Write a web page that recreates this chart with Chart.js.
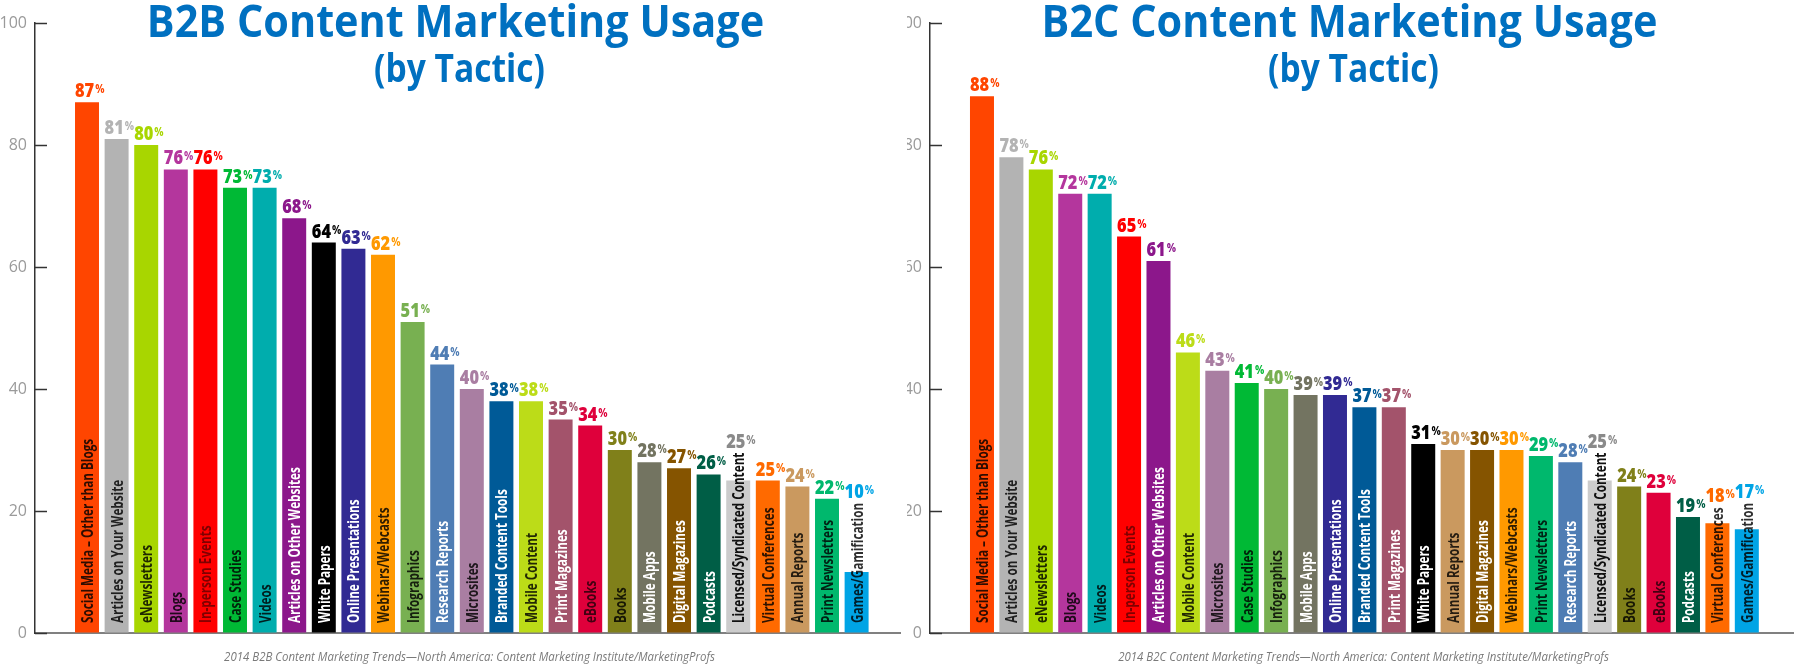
<!DOCTYPE html>
<html>
<head>
<meta charset="utf-8">
<script src="https://cdn.jsdelivr.net/npm/chart.js@4.4.1/dist/chart.umd.min.js"></script>
<style>
html, body { margin: 0; padding: 0; background: #fff; }
body { width: 1796px; height: 664px; position: relative; overflow: hidden; }
#b2bWrap { position: absolute; left: 0; top: 0; width: 907px; height: 664px; background: #fff; z-index: 2; }
#b2cWrap { position: absolute; left: 880px; top: 0; width: 916px; height: 664px; z-index: 1; }
</style>
</head>
<body>
<div id="b2bWrap"><canvas id="b2bChart"></canvas></div>
<div id="b2cWrap"><canvas id="b2cChart"></canvas></div>
<script>
const b2bTactics = [
    "Social Media – Other than Blogs", "Articles on Your Website", "eNewsletters", "Blogs",
    "In-person Events", "Case Studies", "Videos", "Articles on Other Websites", "White Papers",
    "Online Presentations", "Webinars/Webcasts", "Infographics", "Research Reports", "Microsites",
    "Branded Content Tools", "Mobile Content", "Print Magazines", "eBooks", "Books", "Mobile Apps",
    "Digital Magazines", "Podcasts", "Licensed/Syndicated Content", "Virtual Conferences",
    "Annual Reports", "Print Newsletters", "Games/Gamification"
];
const b2bValues = [87, 81, 80, 76, 76, 73, 73, 68, 64, 63, 62, 51, 44, 40, 38, 38, 35, 34, 30, 28, 27, 26, 25, 25, 24, 22, 10];

const b2cTactics = [
    "Social Media – Other than Blogs", "Articles on Your Website", "eNewsletters", "Blogs", "Videos",
    "In-person Events", "Articles on Other Websites", "Mobile Content", "Microsites", "Case Studies",
    "Infographics", "Mobile Apps", "Online Presentations", "Branded Content Tools", "Print Magazines",
    "White Papers", "Annual Reports", "Digital Magazines", "Webinars/Webcasts", "Print Newsletters",
    "Research Reports", "Licensed/Syndicated Content", "Books", "eBooks", "Podcasts",
    "Virtual Conferences", "Games/Gamification"
];
const b2cValues = [88, 78, 76, 72, 72, 65, 61, 46, 43, 41, 40, 39, 39, 37, 37, 31, 30, 30, 30, 29, 28, 25, 24, 23, 19, 18, 17];

const yTicks = [0, 20, 40, 60, 80, 100];

// colours per tactic: bar fill, text inside the bar
const DARK = "rgba(0,0,0,0.82)";
const tacticStyle = {
    "Social Media – Other than Blogs": { bar: "#ff4500", text: DARK },
    "Articles on Your Website": { bar: "#b3b3b3", text: DARK },
    "eNewsletters": { bar: "#a8d600", text: DARK },
    "Blogs": { bar: "#b4369d", text: DARK },
    "In-person Events": { bar: "#ff0000", text: "rgba(0,0,0,0.5)" },
    "Case Studies": { bar: "#00b935", text: DARK },
    "Videos": { bar: "#00adad", text: DARK },
    "Articles on Other Websites": { bar: "#8c178b", text: "#fff" },
    "White Papers": { bar: "#000000", text: "#fff" },
    "Online Presentations": { bar: "#312a93", text: "#fff" },
    "Webinars/Webcasts": { bar: "#ff9900", text: DARK },
    "Infographics": { bar: "#78b051", text: DARK },
    "Research Reports": { bar: "#4f7db4", text: "#fff" },
    "Microsites": { bar: "#a97ea2", text: DARK },
    "Branded Content Tools": { bar: "#005a97", text: "#fff" },
    "Mobile Content": { bar: "#bcdc18", text: DARK },
    "Print Magazines": { bar: "#a3536b", text: "#fff" },
    "eBooks": { bar: "#df003b", text: "rgba(0,0,0,0.7)" },
    "Books": { bar: "#80801a", text: DARK },
    "Mobile Apps": { bar: "#737461", text: "#fff" },
    "Digital Magazines": { bar: "#855400", text: "#fff" },
    "Podcasts": { bar: "#005e46", text: "#fff" },
    "Licensed/Syndicated Content": { bar: "#cccccc", text: "#111", label: "#8a8a8a" },
    "Virtual Conferences": { bar: "#ff6a00", text: DARK },
    "Annual Reports": { bar: "#ca995f", text: DARK },
    "Print Newsletters": { bar: "#00b86d", text: DARK },
    "Games/Gamification": { bar: "#00a4e5", text: DARK }
};

const FONT = "'Open Sans', 'Noto Sans', sans-serif";

function squeezedText(ctx, text, x, y, squeeze) {
    ctx.save();
    ctx.translate(x, y);
    ctx.scale(squeeze, 1);
    ctx.fillText(text, 0, 0);
    ctx.restore();
    return ctx.measureText(text).width * squeeze;
}

const overlayPlugin = {
    id: "overlay",
    afterDatasetsDraw(chart, args, opts) {
        const ctx = chart.ctx;
        const area = chart.chartArea;
        const meta = chart.getDatasetMeta(0);
        const tactics = opts.tactics;
        const values = opts.values;

        meta.data.forEach((bar, i) => {
            const style = tacticStyle[tactics[i]];
            const baseY = area.bottom - 10;

            // category name, rotated inside the bar
            ctx.save();
            ctx.font = `700 16.5px ${FONT}`;
            const squeeze = 0.71;
            const textLen = ctx.measureText(tactics[i]).width * squeeze;
            ctx.translate(bar.x + 6, baseY);
            ctx.rotate(-Math.PI / 2);
            ctx.scale(squeeze, 1);
            ctx.fillStyle = style.text;
            ctx.textAlign = "left";
            ctx.textBaseline = "alphabetic";
            ctx.fillText(tactics[i], 0, 0);
            ctx.restore();

            // value label above the bar (or above the name if it sticks out)
            const labelY = Math.min(bar.y, baseY - textLen) - 5;
            const left = bar.x - bar.width / 2;
            ctx.save();
            ctx.fillStyle = style.label || style.bar;
            ctx.textAlign = "left";
            ctx.textBaseline = "alphabetic";
            ctx.font = `800 19px ${FONT}`;
            const w = squeezedText(ctx, String(values[i]), left, labelY, 0.86);
            ctx.font = `700 12px ${FONT}`;
            squeezedText(ctx, "%", left + w + 1, labelY - 4, 0.86);
            ctx.restore();
        });
    },
    afterDraw(chart, args, opts) {
        const ctx = chart.ctx;
        const area = chart.chartArea;
        const yScale = chart.scales.y;

        // inward tick marks on the y axis
        ctx.save();
        ctx.strokeStyle = "#333";
        ctx.lineWidth = 1.5;
        yTicks.forEach(v => {
            const y = Math.round(yScale.getPixelForValue(v)) + 0.5;
            ctx.beginPath();
            ctx.moveTo(area.left, y);
            ctx.lineTo(area.left + 12, y);
            ctx.stroke();
        });
        ctx.restore();

        const cx = (area.left + area.right) / 2;

        ctx.save();
        ctx.fillStyle = "#0070c0";
        ctx.textAlign = "center";
        ctx.textBaseline = "alphabetic";
        ctx.font = `700 45px ${FONT}`;
        squeezedText(ctx, opts.title, cx - 12, 37, 0.92);
        ctx.font = `700 40px ${FONT}`;
        squeezedText(ctx, opts.subtitle, cx - 8, 82, 0.84);

        ctx.fillStyle = "#7a7a7a";
        ctx.font = `italic 400 13px ${FONT}`;
        squeezedText(ctx, opts.source, cx + 2, 661, 0.88);
        ctx.restore();
    }
};

function makeChart(canvasId, cfg) {
    const canvas = document.getElementById(canvasId);
    return new Chart(canvas, {
        type: "bar",
        data: {
            datasets: [
                {
                    data: cfg.values.map((v, i) => ({ x: i, y: v })),
                    backgroundColor: cfg.tactics.map(t => tacticStyle[t].bar),
                    borderWidth: 0,
                    barPercentage: cfg.barPct,
                    categoryPercentage: 1
                }
            ]
        },
        options: {
            responsive: true,
            maintainAspectRatio: false,
            animation: false,
            layout: {
                padding: { left: cfg.padLeft, right: cfg.padRight, top: 23, bottom: 0 }
            },
            plugins: {
                legend: { display: false },
                tooltip: { enabled: false },
                overlay: {
                    tactics: cfg.tactics,
                    values: cfg.values,
                    title: cfg.title,
                    subtitle: "(by Tactic)",
                    source: cfg.source
                }
            },
            scales: {
                x: {
                    type: "linear",
                    min: cfg.xMin,
                    max: cfg.xMax,
                    offset: false,
                    bounds: "data",
                    ticks: { display: false },
                    grid: { display: false, offset: false },
                    border: { display: true, color: "#808080", width: 2 },
                    afterFit(scale) {
                        scale.height = 31;
                    }
                },
                y: {
                    min: 0,
                    max: 100,
                    afterBuildTicks(scale) {
                        scale.ticks = yTicks.map(v => ({ value: v }));
                    },
                    ticks: {
                        color: "#9a9a9a",
                        padding: 8,
                        font: { family: FONT, size: 16 }
                    },
                    grid: { drawOnChartArea: false, drawTicks: false },
                    border: { display: true, color: "#333", width: 1.5 },
                    afterFit(scale) {
                        scale.width = 35;
                    }
                }
            }
        },
        plugins: [overlayPlugin]
    });
}

makeChart("b2bChart", {
    tactics: b2bTactics,
    values: b2bValues,
    title: "B2B Content Marketing Usage",
    source: "2014 B2B Content Marketing Trends—North America: Content Marketing Institute/MarketingProfs",
    padLeft: 0,
    padRight: 7,
    xMin: -1.757,
    xMax: 27.466,
    barPct: 0.81
});

makeChart("b2cChart", {
    tactics: b2cTactics,
    values: b2cValues,
    title: "B2C Content Marketing Usage",
    source: "2014 B2C Content Marketing Trends—North America: Content Marketing Institute/MarketingProfs",
    padLeft: 15,
    padRight: 3,
    xMin: -1.767,
    xMax: 27.57,
    barPct: 0.816
});
</script>
</body>
</html>
